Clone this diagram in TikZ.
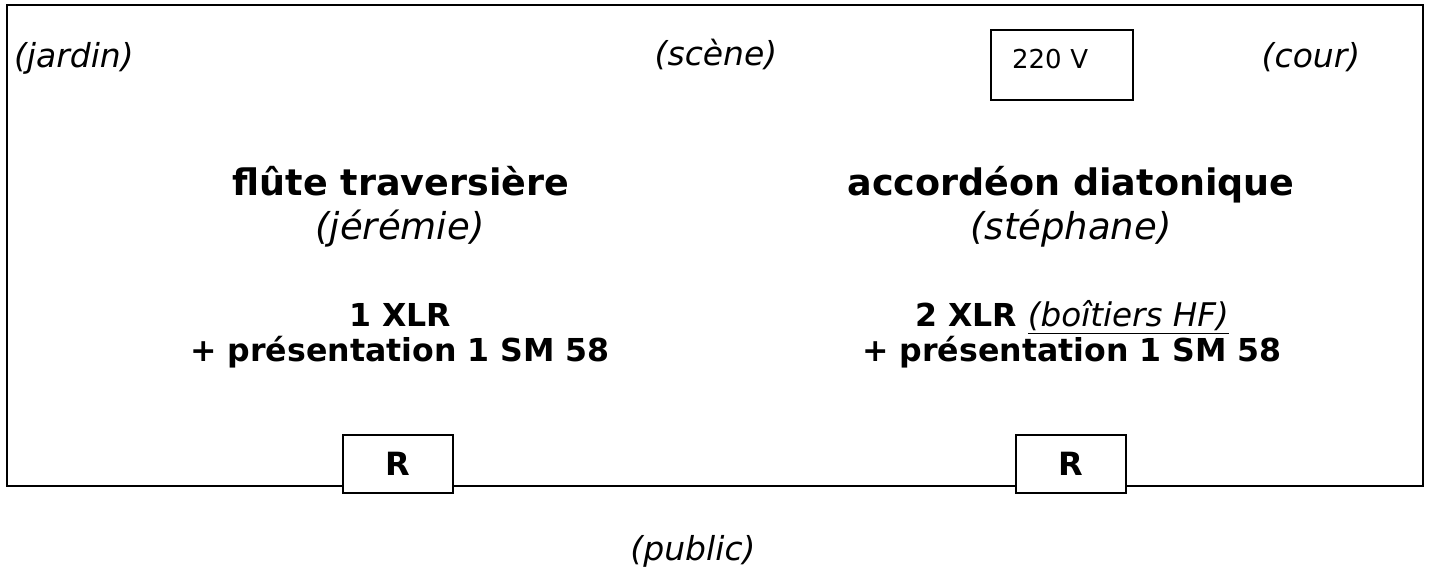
\documentclass[tikz,border=0pt]{standalone}
\usepackage{fontspec}
\setmainfont{DejaVu Sans}
\tikzset{every picture/.style={line width=1pt}}

\begin{document}
\begin{tikzpicture}[x=0.5pt, y=-0.5pt,
    place/.style={font=\fontsize{16.5}{20}\selectfont\itshape, anchor=base, inner sep=0pt},
    instr/.style={font=\fontsize{18.25}{22}\selectfont\bfseries, anchor=base, inner sep=0pt},
    player/.style={font=\fontsize{18.5}{22}\selectfont\itshape, anchor=base, inner sep=0pt},
    gear/.style={font=\fontsize{15.8}{16}\selectfont\bfseries, anchor=base, inner sep=0pt},
    retour/.style={draw, fill=white, minimum width=55pt, minimum height=29pt, inner sep=0pt,
      font=\fontsize{16}{19}\selectfont\bfseries}]
  \useasboundingbox (0,0) rectangle (1429,569);

  % plateau
  \node[draw, minimum width=708pt, minimum height=240.5pt, inner sep=0pt] (stage) at (715,245.5) {};

  \node[place, anchor=base west] (jardin) at (13,67) {(jardin)};
  \node[place] (scene) at (716,65) {(scène)};
  \node[place] (cour) at (1311,67) {(cour)};
  \node[draw, text width=50pt, align=left, inner xsep=10.5pt, inner ysep=0pt,
    text height=19pt, text depth=16pt, font=\fontsize{13}{15}\selectfont] (power) at (1062,65) {220 V};

  % jardin side
  \node[instr] (flute) at (401,195) {flûte traversière};
  \node[player] (jeremie) at (400,239) {(jérémie)};
  \node[gear] (flutemic) at (400,326) {1 XLR};
  \node[gear] (flutepres) at ([yshift=-17.5pt]flutemic.base) {+ présentation 1 SM 58};

  % cour side
  \node[instr] (accordeon) at (1071,195) {accordéon diatonique};
  \node[player] (stephane) at (1071,239) {(stéphane)};
  \node[gear] (accmic) at (1072,326) {2 XLR \underline{\fontsize{16.3}{16}\selectfont\mdseries\itshape (boîtiers HF)}};
  \node[gear] (accpres) at ([yshift=-17.5pt]accmic.base) {+ présentation 1 SM 58};

  % retours
  \node[retour] (r1) at (398,464) {R};
  \node[retour] (r2) at (1070.5,464) {R};

  \node[place] (public) at (693,560) {(public)};
\end{tikzpicture}
\end{document}
